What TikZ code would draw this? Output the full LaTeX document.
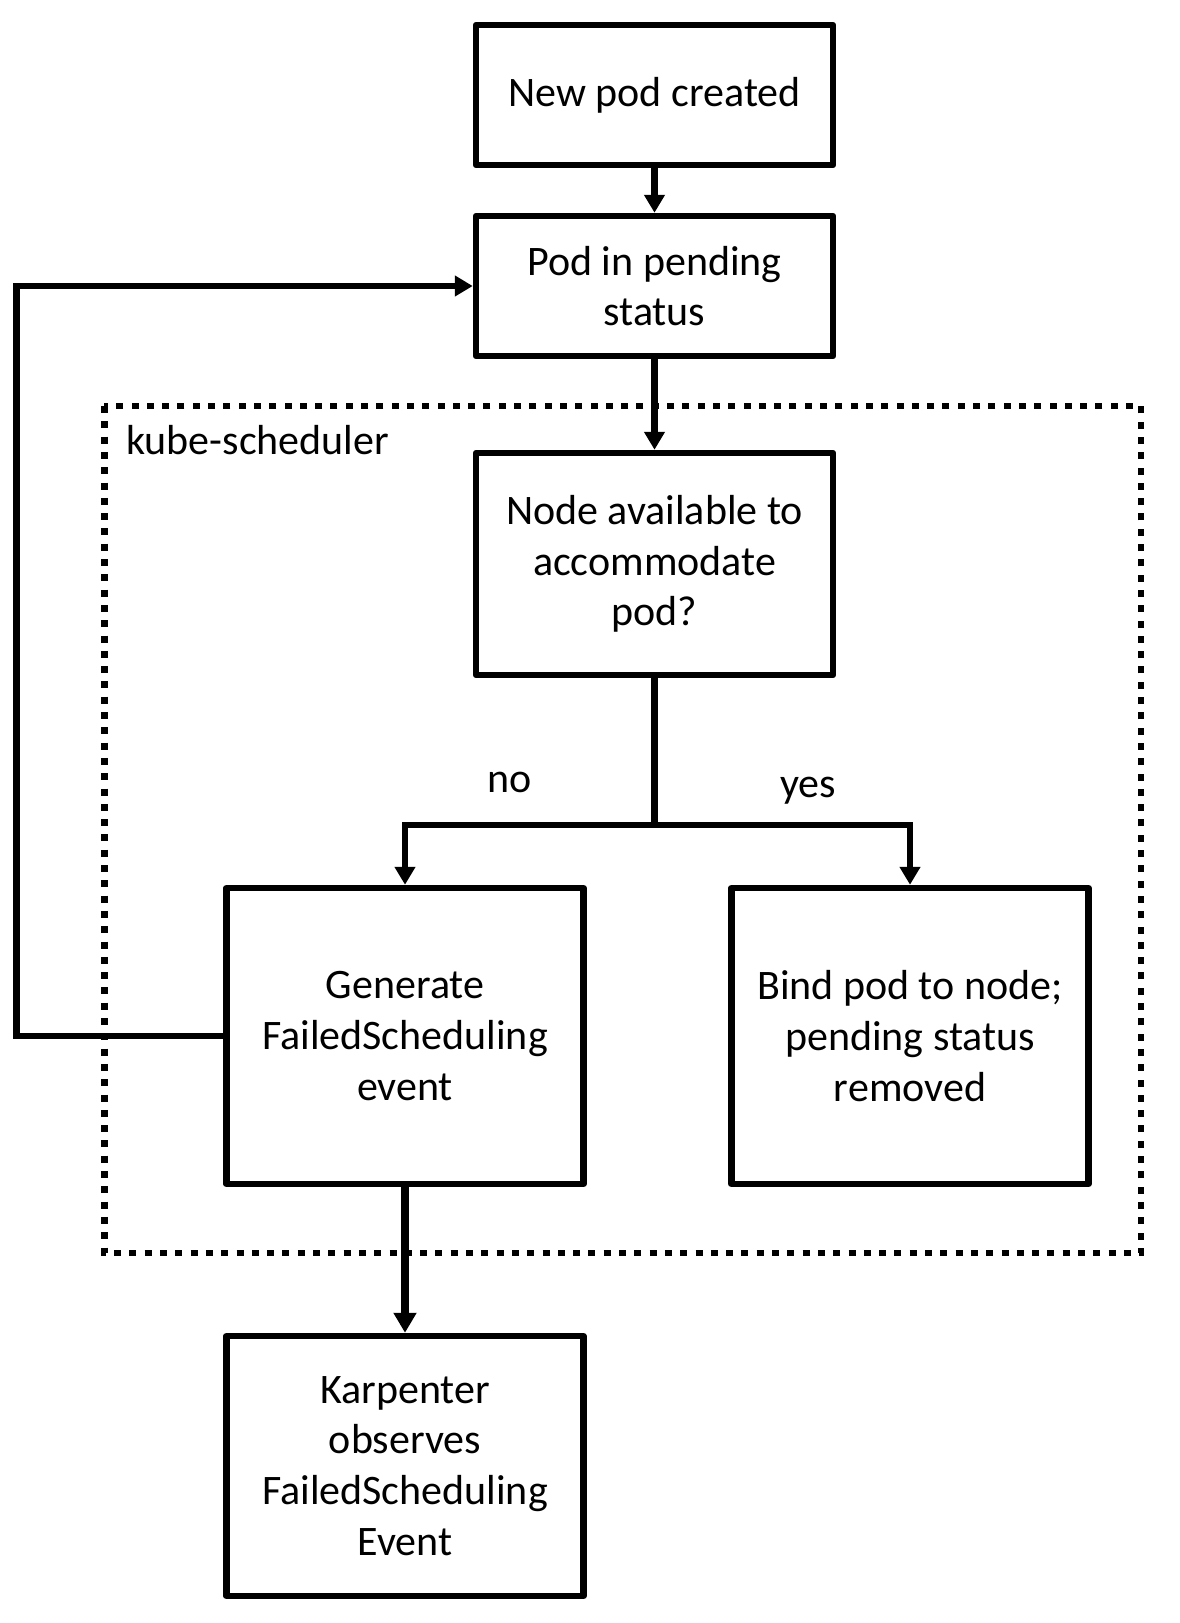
\documentclass[tikz,border=0pt]{standalone}
\usepackage{fontspec}
\setmainfont{Carlito}
\usetikzlibrary{arrows.meta}
\begin{document}
\begin{tikzpicture}[x=1pt,y=-1pt,
  box/.style={draw, line width=6.5pt, line join=round, fill=white, minimum width=357pt, inner sep=0pt, align=center, font=\fontsize{42pt}{50.7pt}\selectfont},
  conn/.style={line width=6.5pt, -{Triangle[length=18pt,width=20pt]}},
  plainline/.style={line width=6.5pt},
  lbl/.style={font=\fontsize{42pt}{50.7pt}\selectfont, inner sep=0pt},
  region/.style={line width=6.5pt, dash pattern=on 7pt off 8.3pt}
  ]
\useasboundingbox (0,0) rectangle (1179,1623);
% dotted region
\draw[region] (104.3,406) rectangle (1141,1253);
\node[lbl, anchor=base west] (kube) at (126,454) {kube-scheduler};

% boxes
\node[box, minimum height=140pt] (new) at (654.5,95) {New pod created};
\node[box, minimum height=140pt] (pend) at (654.5,286) {Pod in pending\\status};
\node[box, minimum height=222pt] (avail) at (654.5,564) {Node available to\\accommodate\\pod?};
\node[box, minimum height=296pt] (gen) at (405,1036) {Generate\\FailedScheduling\\event};
\node[box, minimum height=296pt] (bind) at (910,1036) {Bind pod to node;\\pending status\\removed};
\node[box, minimum height=260pt] (karp) at (405,1466) {Karpenter\\observes\\FailedScheduling\\Event};

% connectors
\draw[conn] (new.south) -- (pend.north);
\draw[conn] (pend.south) -- (avail.north);
\coordinate (br) at (654.5,825);
\draw[plainline] (avail.south) -- (br);
\draw[conn] (br) -| (gen.north);
\draw[conn] (br) -| (bind.north);
\coordinate (loopc) at (16.3,1036);
\draw[conn] (gen.west) -- (loopc) |- (pend.west);
\draw[line width=8pt, -{Triangle[length=20pt,width=22pt]}] (gen.south) -- (karp.north);

% labels
\node[lbl, anchor=base] (no) at (510,792) {no};
\node[lbl, anchor=base] (yes) at (808,797) {yes};
\end{tikzpicture}
\end{document}
